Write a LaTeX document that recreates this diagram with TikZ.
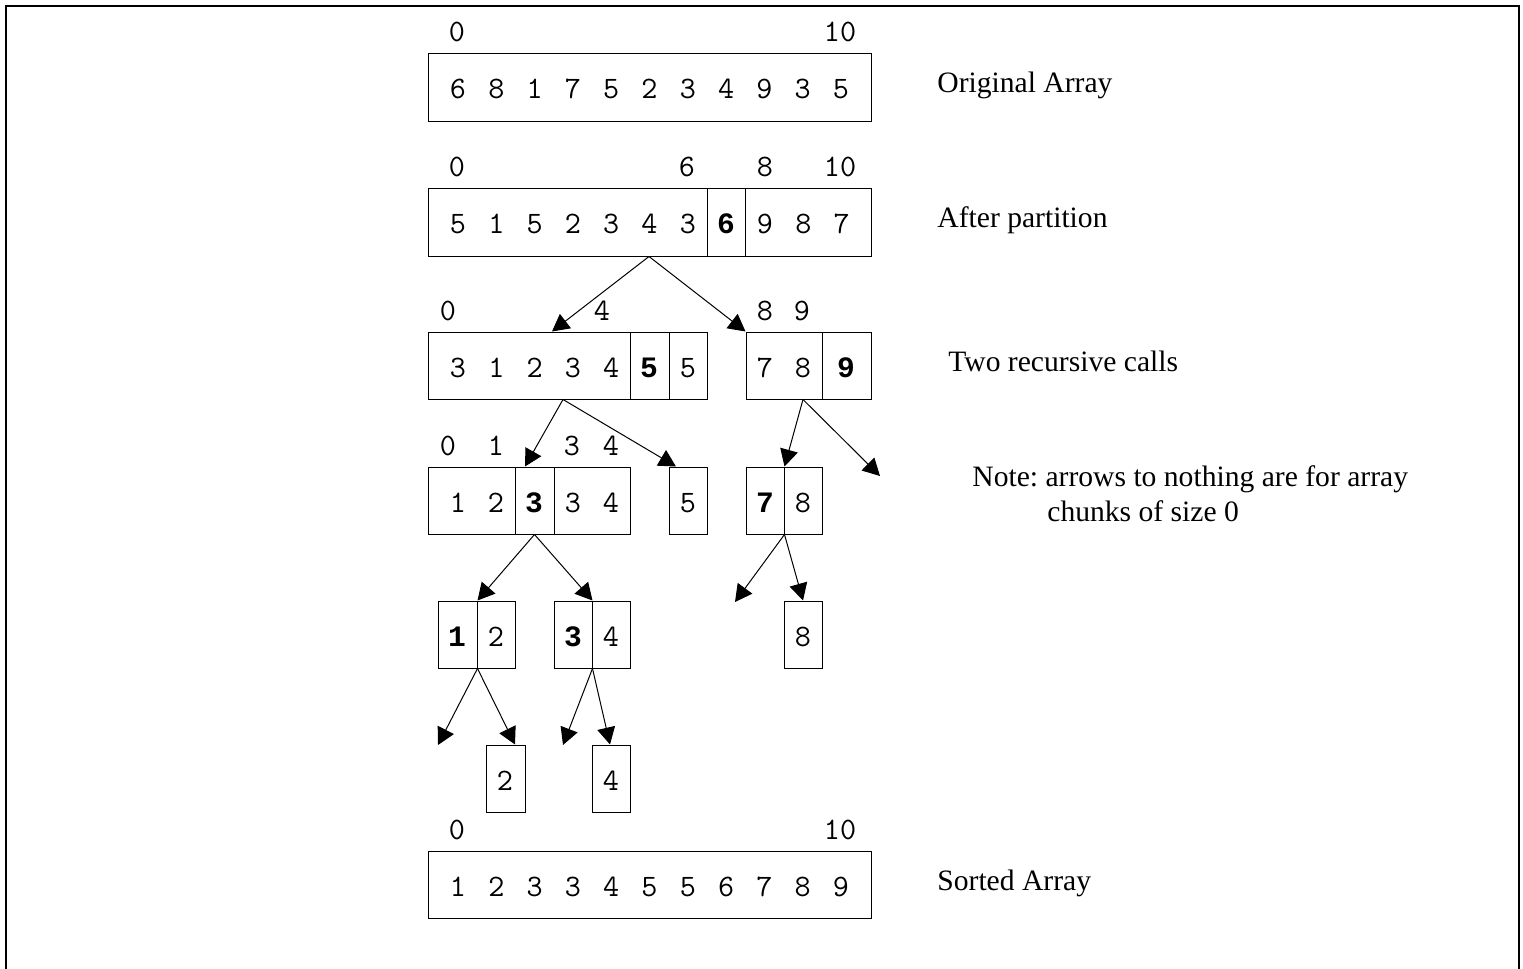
\documentclass[tikz,border=0pt]{standalone}
\usepackage{fontspec}
\setmainfont{Liberation Serif}
\newfontfamily\pivfont{Liberation Mono}
\usetikzlibrary{arrows.meta}
\frenchspacing

% one cell group of an array: name, left, top, right, bottom
\newcommand\cellbox[5]{%
  \node[segbox, minimum width={(#4-#2)*0.5pt}, minimum height={(#5-#3)*0.5pt}]
    (#1) at ({(#2+#4)/2},{(#3+#5)/2}) {};}

\begin{document}
\begin{tikzpicture}[x=0.5pt,y=-0.5pt,
  segbox/.style={draw, line width=0.5pt, inner sep=0pt},
  dig/.style={font=\ttfamily\fontsize{15.6}{17}\selectfont, anchor=base, inner sep=0pt},
  piv/.style={font=\pivfont\bfseries\fontsize{14.8}{16}\selectfont, anchor=base, inner sep=0pt},
  caption/.style={font=\fontsize{14.8}{17}\selectfont, anchor=base west, inner sep=0pt},
  arr/.style={-{Triangle[length=8.5pt,width=9pt]}, line width=0.5pt}
]
\useasboundingbox (0,0) rectangle (1523,969);
\clip (0,0) rectangle (1523,969);

% outer frame
\draw[line width=1pt] (6,5.5) rectangle (1518.5,1000);

% ---------- original array ----------
\cellbox{r1}{428}{53}{871}{121}
\foreach \v [count=\k from 0] in {6,8,1,7,5,2,3,4,9,3,5}
  \node[dig] (r1d\k) at ({458+38.3*\k},98.5) {\v};
\node[dig] (r1i0) at (457,41) {0};
\node[dig] (r1i10) at (840,41) {10};
\node[caption] (t1) at (937,92.5) {Original Array};

% ---------- after partition ----------
\cellbox{a2}{428}{188}{707}{256}
\cellbox{p2}{707}{188}{745}{256}
\cellbox{b2}{745}{188}{871}{256}
\foreach \v [count=\k from 0] in {5,1,5,2,3,4,3}
  \node[dig] (a2d\k) at ({458+38.3*\k},233.5) {\v};
\node[piv] (p2d) at (726,233.5) {6};
\foreach \v [count=\k from 0] in {9,8,7}
  \node[dig] (b2d\k) at ({765+38.3*\k},233.5) {\v};
\node[dig] (r2i0) at (457,176) {0};
\node[dig] (r2i6) at (687,176) {6};
\node[dig] (r2i8) at (765,176) {8};
\node[dig] (r2i10) at (840,176) {10};
\node[caption] (t2) at (937,227.5) {After partition};

% ---------- two recursive calls ----------
\cellbox{a3}{428}{332}{630}{399}
\cellbox{p3}{630}{332}{669}{399}
\cellbox{c3}{669}{332}{707}{399}
\cellbox{d3}{746}{332}{822}{399}
\cellbox{q3}{822}{332}{871}{399}
\foreach \v [count=\k from 0] in {3,1,2,3,4}
  \node[dig] (a3d\k) at ({458+38.3*\k},377) {\v};
\node[piv] (p3d) at (649,377) {5};
\node[dig] (c3d) at (688,377) {5};
\node[dig] (d3d0) at (765,377) {7};
\node[dig] (d3d1) at (803,377) {8};
\node[piv] (q3d) at (846,377) {9};
\node[dig] (r3i0) at (448,320) {0};
\node[dig] (r3i4) at (602,320) {4};
\node[dig] (r3i8) at (765,320) {8};
\node[dig] (r3i9) at (802,320) {9};
\node[caption] (t3) at (948,371.5) {Two recursive calls};

% ---------- third level ----------
\cellbox{a4}{428}{467}{515}{534}
\cellbox{p4}{515}{467}{554}{534}
\cellbox{b4}{554}{467}{630}{534}
\cellbox{e4}{669}{467}{707}{534}
\cellbox{f4}{746}{467}{784}{534}
\cellbox{g4}{784}{467}{822}{534}
\node[dig] (a4d0) at (458,512) {1};
\node[dig] (a4d1) at (496,512) {2};
\node[piv] (p4d) at (534,512) {3};
\node[dig] (b4d0) at (573,512) {3};
\node[dig] (b4d1) at (611,512) {4};
\node[dig] (e4d) at (688,512) {5};
\node[piv] (f4d) at (765,512) {7};
\node[dig] (g4d) at (803,512) {8};
\node[dig] (r4i0) at (448,455) {0};
\node[dig] (r4i1) at (496,455) {1};
\node[dig] (r4i3) at (572,455) {3};
\node[dig] (r4i4) at (611,455) {4};
\node[caption] (t4) at (972,486.5) {Note: arrows to nothing are for array};
\node[caption] (t5) at (1047,521.5) {chunks of size 0};

% ---------- fourth level ----------
\cellbox{h5}{438}{601}{477}{668}
\cellbox{i5}{477}{601}{515}{668}
\cellbox{j5}{554}{601}{592}{668}
\cellbox{k5}{592}{601}{630}{668}
\cellbox{l5}{784}{601}{822}{668}
\node[piv] (h5d) at (457,646) {1};
\node[dig] (i5d) at (496,646) {2};
\node[piv] (j5d) at (573,646) {3};
\node[dig] (k5d) at (611,646) {4};
\node[dig] (l5d) at (803,646) {8};

% ---------- fifth level ----------
\cellbox{m6}{486}{745}{525}{812}
\cellbox{n6}{592}{745}{630}{812}
\node[dig] (m6d) at (505,790) {2};
\node[dig] (n6d) at (611,790) {4};

% ---------- sorted array ----------
\cellbox{r7}{428}{851}{871}{918}
\foreach \v [count=\k from 0] in {1,2,3,3,4,5,5,6,7,8,9}
  \node[dig] (r7d\k) at ({458+38.3*\k},896) {\v};
\node[dig] (r7i0) at (457,839) {0};
\node[dig] (r7i10) at (840,839) {10};
\node[caption] (t6) at (937,890) {Sorted Array};

% ---------- recursion arrows ----------
\coordinate (s2) at (649,0 |- a2.south);
\draw[arr] (s2) -- (552,0 |- a3.north);
\draw[arr] (s2) -- (d3.north west);

\coordinate (s3a) at (563,0 |- a3.south);
\draw[arr] (s3a) -- (525,0 |- p4.north);
\draw[arr] (s3a) -- (676,0 |- e4.north);
\coordinate (s3b) at (803,0 |- d3.south);
\coordinate (z1) at (880,476);
\draw[arr] (s3b) -- (f4.north east);
\draw[arr] (s3b) -- (z1);

\coordinate (s4a) at (p4.south);
\draw[arr] (s4a) -- (h5.north east);
\draw[arr] (s4a) -- (j5.north east);
\coordinate (s4b) at (f4.south east);
\coordinate (z2) at (735,602);
\draw[arr] (s4b) -- (z2);
\draw[arr] (s4b) -- (l5.north);

\coordinate (s5a) at (h5.south east);
\coordinate (z3) at (438,745);
\draw[arr] (s5a) -- (z3);
\draw[arr] (s5a) -- (515,0 |- m6.north);
\coordinate (s5b) at (j5.south east);
\coordinate (z4) at (563,745);
\draw[arr] (s5b) -- (z4);
\draw[arr] (s5b) -- (610,0 |- n6.north);
\end{tikzpicture}
\end{document}
